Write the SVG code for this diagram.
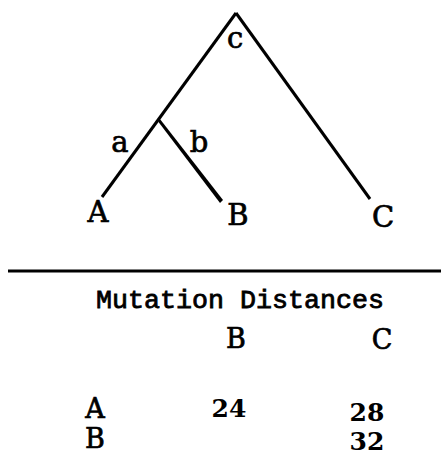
<svg xmlns="http://www.w3.org/2000/svg" width="441" height="455" viewBox="0 0 441 455">
<style>
.br{stroke:#000;stroke-width:3;stroke-linecap:butt;fill:none}
.lbl{font-family:"DejaVu Serif","Liberation Serif",serif;fill:#000;stroke:#000;stroke-width:0.7;text-anchor:middle}
.big{font-size:29px}
.sm{font-size:27px}
.tw{font-family:"Liberation Mono","DejaVu Sans Mono",monospace;font-size:26px;fill:#000;stroke:#000;stroke-width:0.8}
.num{font-family:"DejaVu Serif","Liberation Serif",serif;font-weight:bold;font-size:25px;fill:#000;text-anchor:middle}
</style>
<rect width="441" height="455" fill="#fff"/>
<g id="connectors">
<line class="br" x1="236" y1="13" x2="102" y2="197"/>
<line class="br" x1="236" y1="13" x2="370" y2="199"/>
<path d="M159 118 L161.5 121 L223 200 L220 203 L158.5 122 Z" fill="#000"/>
<line x1="8" y1="271" x2="441" y2="271" stroke="#000" stroke-width="3"/>
</g>
<g id="node-c"><text class="lbl big" x="235" y="48">c</text></g>
<g id="node-a"><text class="lbl big" x="120" y="152">a</text></g>
<g id="node-b"><text class="lbl big" x="199" y="152">b</text></g>
<g id="node-A"><text class="lbl big" x="98" y="222">A</text></g>
<g id="node-B"><text class="lbl big" x="238" y="225">B</text></g>
<g id="node-C"><text class="lbl big" x="383" y="227">C</text></g>
<g id="table">
<text class="tw" x="96" y="308" textLength="288" lengthAdjust="spacingAndGlyphs">Mutation Distances</text>
<text class="lbl sm" x="236" y="348">B</text>
<text class="lbl sm" x="382" y="349">C</text>
<text class="lbl sm" x="95" y="418">A</text>
<text class="lbl sm" x="95" y="448">B</text>
<text class="num" x="229" y="417">24</text>
<text class="num" x="367" y="421">28</text>
<text class="num" x="367" y="450">32</text>
</g>
</svg>
